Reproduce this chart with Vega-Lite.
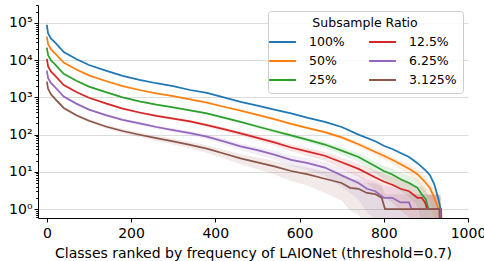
{
  "$schema": "https://vega.github.io/schema/vega-lite/v6.json",
  "width": 430,
  "height": 213,
  "autosize": {"type": "none"},
  "padding": {"left": 38, "top": 5, "right": 16, "bottom": 43},
  "background": "white",
  "config": {
    "font": "DejaVu Sans",
    "view": {"stroke": null},
    "axis": {"labelFont": "DejaVu Sans", "titleFont": "DejaVu Sans", "labelFontSize": 14, "titleFontSize": 14, "labelColor": "#000", "titleColor": "#000", "titleFontWeight": "normal", "domainColor": "#000", "domainWidth": 1, "tickColor": "#000", "tickWidth": 1}
  },
  "resolve": {"legend": {"color": "independent"}},
  "data": {"values": [
    {"r":0,"s":"100%","v":89000,"lo":89000,"hi":170000},
    {"r":3,"s":"100%","v":52000,"lo":52000,"hi":52000},
    {"r":10,"s":"100%","v":38000,"lo":38000,"hi":38000},
    {"r":20,"s":"100%","v":29500,"lo":29500,"hi":29500},
    {"r":40,"s":"100%","v":16600,"lo":16600,"hi":16600},
    {"r":70,"s":"100%","v":10700,"lo":10700,"hi":10700},
    {"r":100,"s":"100%","v":7400,"lo":7400,"hi":7400},
    {"r":140,"s":"100%","v":5250,"lo":5250,"hi":5250},
    {"r":180,"s":"100%","v":3800,"lo":3800,"hi":3800},
    {"r":220,"s":"100%","v":2950,"lo":2950,"hi":2950},
    {"r":260,"s":"100%","v":2400,"lo":2400,"hi":2400},
    {"r":300,"s":"100%","v":2000,"lo":2000,"hi":2000},
    {"r":340,"s":"100%","v":1580,"lo":1580,"hi":1580},
    {"r":380,"s":"100%","v":1320,"lo":1320,"hi":1320},
    {"r":420,"s":"100%","v":1000,"lo":1000,"hi":1000},
    {"r":460,"s":"100%","v":760,"lo":760,"hi":760},
    {"r":500,"s":"100%","v":600,"lo":600,"hi":600},
    {"r":540,"s":"100%","v":470,"lo":470,"hi":470},
    {"r":580,"s":"100%","v":370,"lo":370,"hi":370},
    {"r":620,"s":"100%","v":280,"lo":280,"hi":280},
    {"r":660,"s":"100%","v":220,"lo":220,"hi":220},
    {"r":700,"s":"100%","v":160,"lo":160,"hi":160},
    {"r":740,"s":"100%","v":100,"lo":100,"hi":100},
    {"r":780,"s":"100%","v":66,"lo":66,"hi":66},
    {"r":800,"s":"100%","v":50,"lo":50,"hi":50},
    {"r":820,"s":"100%","v":41,"lo":41,"hi":41},
    {"r":840,"s":"100%","v":32,"lo":32,"hi":32},
    {"r":860,"s":"100%","v":25,"lo":25,"hi":25},
    {"r":880,"s":"100%","v":17,"lo":17,"hi":17},
    {"r":900,"s":"100%","v":10.7,"lo":10.7,"hi":10.7},
    {"r":910,"s":"100%","v":8,"lo":8,"hi":8},
    {"r":920,"s":"100%","v":4.6,"lo":4.6,"hi":4.6},
    {"r":930,"s":"100%","v":1.8,"lo":1.8,"hi":1.8},
    {"r":935,"s":"100%","v":1,"lo":1,"hi":1},
    {"r":938,"s":"100%","v":0.1,"lo":0.1,"hi":0.1},

    {"r":0,"s":"50%","v":43000,"lo":42800,"hi":43200},
    {"r":3,"s":"50%","v":27000,"lo":26830,"hi":27170},
    {"r":10,"s":"50%","v":19500,"lo":19350,"hi":19650},
    {"r":20,"s":"50%","v":15000,"lo":14870,"hi":15130},
    {"r":40,"s":"50%","v":8600,"lo":8500,"hi":8700},
    {"r":70,"s":"50%","v":5600,"lo":5520,"hi":5680},
    {"r":100,"s":"50%","v":3900,"lo":3834,"hi":3966},
    {"r":140,"s":"50%","v":2750,"lo":2694,"hi":2806},
    {"r":180,"s":"50%","v":2000,"lo":1953,"hi":2047},
    {"r":220,"s":"50%","v":1580,"lo":1538,"hi":1622},
    {"r":260,"s":"50%","v":1280,"lo":1242,"hi":1318},
    {"r":300,"s":"50%","v":1080,"lo":1045,"hi":1115},
    {"r":340,"s":"50%","v":880,"lo":849,"hi":911},
    {"r":380,"s":"50%","v":720,"lo":692,"hi":748},
    {"r":420,"s":"50%","v":560,"lo":535,"hi":585},
    {"r":460,"s":"50%","v":440,"lo":418,"hi":462},
    {"r":500,"s":"50%","v":340,"lo":320,"hi":360},
    {"r":540,"s":"50%","v":260,"lo":243,"hi":277},
    {"r":580,"s":"50%","v":195,"lo":180,"hi":210},
    {"r":620,"s":"50%","v":150,"lo":137,"hi":163},
    {"r":660,"s":"50%","v":116,"lo":104.6,"hi":127.4},
    {"r":700,"s":"50%","v":84,"lo":74.3,"hi":93.7},
    {"r":740,"s":"50%","v":55,"lo":47.1,"hi":62.9},
    {"r":780,"s":"50%","v":34,"lo":27.8,"hi":40.2},
    {"r":800,"s":"50%","v":27,"lo":21.5,"hi":32.5},
    {"r":820,"s":"50%","v":21,"lo":16.1,"hi":25.9},
    {"r":840,"s":"50%","v":16,"lo":11.8,"hi":20.2},
    {"r":860,"s":"50%","v":12,"lo":8.3,"hi":15.7},
    {"r":880,"s":"50%","v":8.6,"lo":5.5,"hi":11.7},
    {"r":900,"s":"50%","v":5,"lo":2.6,"hi":7.4},
    {"r":910,"s":"50%","v":3.6,"lo":1.6,"hi":5.6},
    {"r":920,"s":"50%","v":2,"lo":0.5,"hi":3.5},
    {"r":930,"s":"50%","v":1,"lo":0.3,"hi":2.1},
    {"r":936,"s":"50%","v":1,"lo":0.3,"hi":2},
    {"r":939,"s":"50%","v":0.1,"lo":0.1,"hi":0.1},

    {"r":0,"s":"25%","v":21700,"lo":21510,"hi":21890},
    {"r":3,"s":"25%","v":13500,"lo":13350,"hi":13650},
    {"r":10,"s":"25%","v":9800,"lo":9670,"hi":9930},
    {"r":20,"s":"25%","v":7600,"lo":7490,"hi":7710},
    {"r":40,"s":"25%","v":4300,"lo":4215,"hi":4385},
    {"r":70,"s":"25%","v":2800,"lo":2731,"hi":2869},
    {"r":100,"s":"25%","v":1950,"lo":1893,"hi":2007},
    {"r":140,"s":"25%","v":1380,"lo":1332,"hi":1428},
    {"r":180,"s":"25%","v":1000,"lo":959,"hi":1041},
    {"r":220,"s":"25%","v":780,"lo":744,"hi":816},
    {"r":260,"s":"25%","v":640,"lo":607,"hi":673},
    {"r":300,"s":"25%","v":540,"lo":510,"hi":570},
    {"r":340,"s":"25%","v":450,"lo":422,"hi":478},
    {"r":380,"s":"25%","v":370,"lo":345,"hi":395},
    {"r":420,"s":"25%","v":285,"lo":263,"hi":307},
    {"r":460,"s":"25%","v":220,"lo":201,"hi":239},
    {"r":500,"s":"25%","v":165,"lo":148,"hi":182},
    {"r":540,"s":"25%","v":125,"lo":110.5,"hi":139.5},
    {"r":580,"s":"25%","v":95,"lo":82.3,"hi":107.7},
    {"r":620,"s":"25%","v":72,"lo":61,"hi":83},
    {"r":660,"s":"25%","v":54,"lo":44.4,"hi":63.6},
    {"r":700,"s":"25%","v":37,"lo":29.1,"hi":44.9},
    {"r":740,"s":"25%","v":25,"lo":18.5,"hi":31.5},
    {"r":780,"s":"25%","v":14,"lo":9.1,"hi":18.9},
    {"r":800,"s":"25%","v":10.5,"lo":6.3,"hi":14.7},
    {"r":820,"s":"25%","v":8.5,"lo":4.7,"hi":12.3},
    {"r":840,"s":"25%","v":6.3,"lo":3,"hi":9.6},
    {"r":860,"s":"25%","v":5,"lo":2.1,"hi":7.9},
    {"r":880,"s":"25%","v":3.7,"lo":1.2,"hi":6.2},
    {"r":890,"s":"25%","v":2.5,"lo":0.4,"hi":4.6},
    {"r":900,"s":"25%","v":1.8,"lo":0.3,"hi":3.5},
    {"r":906,"s":"25%","v":1,"lo":0.3,"hi":2.3},
    {"r":936,"s":"25%","v":1,"lo":0.3,"hi":2.3},
    {"r":938,"s":"25%","v":0.1,"lo":0.1,"hi":0.1},

    {"r":0,"s":"12.5%","v":10800,"lo":10655,"hi":10945},
    {"r":3,"s":"12.5%","v":6800,"lo":6685,"hi":6915},
    {"r":10,"s":"12.5%","v":4900,"lo":4802,"hi":4998},
    {"r":20,"s":"12.5%","v":3800,"lo":3714,"hi":3886},
    {"r":40,"s":"12.5%","v":2150,"lo":2085,"hi":2215},
    {"r":70,"s":"12.5%","v":1400,"lo":1348,"hi":1452},
    {"r":100,"s":"12.5%","v":980,"lo":936,"hi":1024},
    {"r":140,"s":"12.5%","v":690,"lo":653,"hi":727},
    {"r":180,"s":"12.5%","v":500,"lo":469,"hi":531},
    {"r":220,"s":"12.5%","v":392,"lo":364,"hi":420},
    {"r":260,"s":"12.5%","v":320,"lo":295,"hi":345},
    {"r":300,"s":"12.5%","v":270,"lo":247,"hi":293},
    {"r":340,"s":"12.5%","v":225,"lo":204,"hi":246},
    {"r":380,"s":"12.5%","v":180,"lo":161,"hi":199},
    {"r":420,"s":"12.5%","v":140,"lo":123.4,"hi":156.6},
    {"r":460,"s":"12.5%","v":108,"lo":93.5,"hi":122.5},
    {"r":500,"s":"12.5%","v":82,"lo":69.3,"hi":94.7},
    {"r":540,"s":"12.5%","v":62,"lo":51,"hi":73},
    {"r":580,"s":"12.5%","v":45,"lo":35.6,"hi":54.4},
    {"r":620,"s":"12.5%","v":35,"lo":26.7,"hi":43.3},
    {"r":660,"s":"12.5%","v":27,"lo":19.7,"hi":34.3},
    {"r":700,"s":"12.5%","v":18,"lo":12.1,"hi":23.9},
    {"r":740,"s":"12.5%","v":12,"lo":7.2,"hi":16.8},
    {"r":780,"s":"12.5%","v":7,"lo":3.3,"hi":10.7},
    {"r":800,"s":"12.5%","v":5.5,"lo":2.2,"hi":8.8},
    {"r":820,"s":"12.5%","v":4.5,"lo":1.5,"hi":7.5},
    {"r":840,"s":"12.5%","v":3.5,"lo":0.9,"hi":6.1},
    {"r":860,"s":"12.5%","v":3,"lo":0.6,"hi":5.4},
    {"r":880,"s":"12.5%","v":2,"lo":0.3,"hi":4},
    {"r":890,"s":"12.5%","v":2,"lo":0.3,"hi":4},
    {"r":898,"s":"12.5%","v":1.5,"lo":0.3,"hi":3.2},
    {"r":903,"s":"12.5%","v":1,"lo":0.3,"hi":2.4},
    {"r":935,"s":"12.5%","v":1,"lo":0.3,"hi":2.4},
    {"r":937,"s":"12.5%","v":0.1,"lo":0.1,"hi":0.1},

    {"r":0,"s":"6.25%","v":5250,"lo":5145,"hi":5355},
    {"r":3,"s":"6.25%","v":3300,"lo":3217,"hi":3383},
    {"r":10,"s":"6.25%","v":2400,"lo":2329,"hi":2471},
    {"r":20,"s":"6.25%","v":1850,"lo":1788,"hi":1912},
    {"r":40,"s":"6.25%","v":1050,"lo":1003,"hi":1097},
    {"r":70,"s":"6.25%","v":680,"lo":642,"hi":718},
    {"r":100,"s":"6.25%","v":470,"lo":439,"hi":501},
    {"r":140,"s":"6.25%","v":335,"lo":308,"hi":362},
    {"r":180,"s":"6.25%","v":250,"lo":227,"hi":273},
    {"r":220,"s":"6.25%","v":200,"lo":179.5,"hi":220.5},
    {"r":260,"s":"6.25%","v":160,"lo":141.7,"hi":178.3},
    {"r":300,"s":"6.25%","v":132,"lo":115.3,"hi":148.7},
    {"r":340,"s":"6.25%","v":110,"lo":94.8,"hi":125.2},
    {"r":380,"s":"6.25%","v":88,"lo":74.4,"hi":101.6},
    {"r":420,"s":"6.25%","v":66,"lo":54.2,"hi":77.8},
    {"r":460,"s":"6.25%","v":48,"lo":38,"hi":58},
    {"r":500,"s":"6.25%","v":38,"lo":29.1,"hi":46.9},
    {"r":540,"s":"6.25%","v":29,"lo":21.2,"hi":36.8},
    {"r":580,"s":"6.25%","v":21,"lo":14.4,"hi":27.6},
    {"r":620,"s":"6.25%","v":17,"lo":11,"hi":23},
    {"r":660,"s":"6.25%","v":13,"lo":7.8,"hi":18.2},
    {"r":700,"s":"6.25%","v":8,"lo":3.9,"hi":12.1},
    {"r":740,"s":"6.25%","v":5,"lo":1.8,"hi":8.2},
    {"r":760,"s":"6.25%","v":3.5,"lo":0.8,"hi":6.2},
    {"r":780,"s":"6.25%","v":3,"lo":0.5,"hi":5.5},
    {"r":800,"s":"6.25%","v":2,"lo":0.3,"hi":4.1},
    {"r":820,"s":"6.25%","v":2,"lo":0.3,"hi":4.1},
    {"r":840,"s":"6.25%","v":1.5,"lo":0.3,"hi":3.3},
    {"r":860,"s":"6.25%","v":1.5,"lo":0.3,"hi":3.3},
    {"r":866,"s":"6.25%","v":1,"lo":0.3,"hi":2.5},
    {"r":934,"s":"6.25%","v":1,"lo":0.3,"hi":2.5},
    {"r":936,"s":"6.25%","v":0.1,"lo":0.1,"hi":0.1},

    {"r":0,"s":"3.125%","v":2650,"lo":2574,"hi":2726},
    {"r":3,"s":"3.125%","v":1700,"lo":1639,"hi":1761},
    {"r":10,"s":"3.125%","v":1200,"lo":1149,"hi":1251},
    {"r":20,"s":"3.125%","v":900,"lo":856,"hi":944},
    {"r":40,"s":"3.125%","v":520,"lo":486,"hi":554},
    {"r":70,"s":"3.125%","v":330,"lo":303,"hi":357},
    {"r":100,"s":"3.125%","v":235,"lo":212,"hi":258},
    {"r":140,"s":"3.125%","v":165,"lo":146,"hi":184},
    {"r":180,"s":"3.125%","v":125,"lo":108.5,"hi":141.5},
    {"r":220,"s":"3.125%","v":99,"lo":84.3,"hi":113.7},
    {"r":260,"s":"3.125%","v":80,"lo":66.8,"hi":93.2},
    {"r":300,"s":"3.125%","v":66,"lo":54,"hi":78},
    {"r":340,"s":"3.125%","v":53,"lo":42.2,"hi":63.8},
    {"r":380,"s":"3.125%","v":42,"lo":32.4,"hi":51.6},
    {"r":420,"s":"3.125%","v":31,"lo":22.8,"hi":39.2},
    {"r":460,"s":"3.125%","v":23,"lo":15.9,"hi":30.1},
    {"r":500,"s":"3.125%","v":18,"lo":11.7,"hi":24.3},
    {"r":540,"s":"3.125%","v":14,"lo":8.5,"hi":19.5},
    {"r":580,"s":"3.125%","v":10.5,"lo":5.7,"hi":15.3},
    {"r":620,"s":"3.125%","v":8.5,"lo":4.2,"hi":12.8},
    {"r":660,"s":"3.125%","v":6.5,"lo":2.7,"hi":10.3},
    {"r":700,"s":"3.125%","v":5,"lo":1.7,"hi":8.3},
    {"r":720,"s":"3.125%","v":3.7,"lo":0.9,"hi":6.5},
    {"r":740,"s":"3.125%","v":3.5,"lo":0.7,"hi":6.3},
    {"r":760,"s":"3.125%","v":2.7,"lo":0.3,"hi":5.1},
    {"r":780,"s":"3.125%","v":2.5,"lo":0.3,"hi":4.8},
    {"r":795,"s":"3.125%","v":2,"lo":0.3,"hi":4.1},
    {"r":803,"s":"3.125%","v":1,"lo":0.3,"hi":2.5},
    {"r":932,"s":"3.125%","v":1,"lo":0.3,"hi":2.5},
    {"r":934,"s":"3.125%","v":0.1,"lo":0.1,"hi":0.1}
  ]},
  "layer": [
    {
      "mark": {"type": "area", "clip": true, "opacity": 0.12},
      "encoding": {
        "x": {"field": "r", "type": "quantitative"},
        "y": {"field": "lo", "type": "quantitative"},
        "y2": {"field": "hi"},
        "color": {"field": "s", "type": "nominal", "legend": null}
      }
    },
    {
      "mark": {"type": "line", "clip": true, "strokeWidth": 1.75},
      "encoding": {
        "x": {
          "field": "r", "type": "quantitative",
          "scale": {"domain": [-21, 1000], "nice": false, "zero": false},
          "axis": {"values": [0, 200, 400, 600, 800, 1000], "format": "d", "grid": false, "tickSize": 4, "labelPadding": 4, "title": "Classes ranked by frequency of LAIONet (threshold=0.7)", "titlePadding": 6, "labelFlush": false}
        },
        "y": {
          "field": "v", "type": "quantitative",
          "scale": {"type": "log", "domain": [0.573, 304000], "nice": false},
          "axis": {
            "title": null,
            "values": [0.6,0.7,0.8,0.9,1,2,3,4,5,6,7,8,9,10,20,30,40,50,60,70,80,90,100,200,300,400,500,600,700,800,900,1000,2000,3000,4000,5000,6000,7000,8000,9000,10000,20000,30000,40000,50000,60000,70000,80000,90000,100000,200000,300000],
            "labelExpr": "datum.value == 1 ? '10⁰' : datum.value == 10 ? '10¹' : datum.value == 100 ? '10²' : datum.value == 1000 ? '10³' : datum.value == 10000 ? '10⁴' : datum.value == 100000 ? '10⁵' : ''",
            "grid": true,
            "gridColor": "#dcdcdc",
            "gridWidth": 1.2,
            "gridOpacity": {"condition": {"test": "indexof([1,10,100,1000,10000,100000], datum.value) >= 0", "value": 1}, "value": 0},
            "tickSize": {"condition": {"test": "indexof([1,10,100,1000,10000,100000], datum.value) >= 0", "value": 4}, "value": 2.3},
            "labelPadding": 2,
            "labelFlush": false,
            "labelOverlap": false,
            "labelBound": false
          }
        },
        "color": {
          "field": "s", "type": "nominal",
          "scale": {"domain": ["100%", "50%", "25%", "12.5%", "6.25%", "3.125%"], "range": ["#1f77b4", "#ff7f0e", "#2ca02c", "#d62728", "#9467bd", "#8c564b"]},
          "legend": {
            "title": "Subsample Ratio",
            "orient": "none",
            "legendX": 230,
            "legendY": 6,
            "columns": 2,
            "columnPadding": 20,
            "rowPadding": 4,
            "symbolType": "M-1.9,0H1.9",
            "symbolSize": 200,
            "symbolStrokeWidth": 2,
            "symbolOpacity": 1,
            "labelFontSize": 12.5,
            "labelFont": "DejaVu Sans",
            "labelColor": "#000",
            "labelOffset": 18,
            "titleFontSize": 12.5,
            "titleFont": "DejaVu Sans",
            "titleFontWeight": "normal",
            "titleColor": "#000",
            "titleAnchor": "middle",
            "titlePadding": 4,
            "padding": 6,
            "fillColor": "rgba(255,255,255,0.85)",
            "strokeColor": "#cccccc",
            "cornerRadius": 3
          }
        }
      }
    }
  ]
}
